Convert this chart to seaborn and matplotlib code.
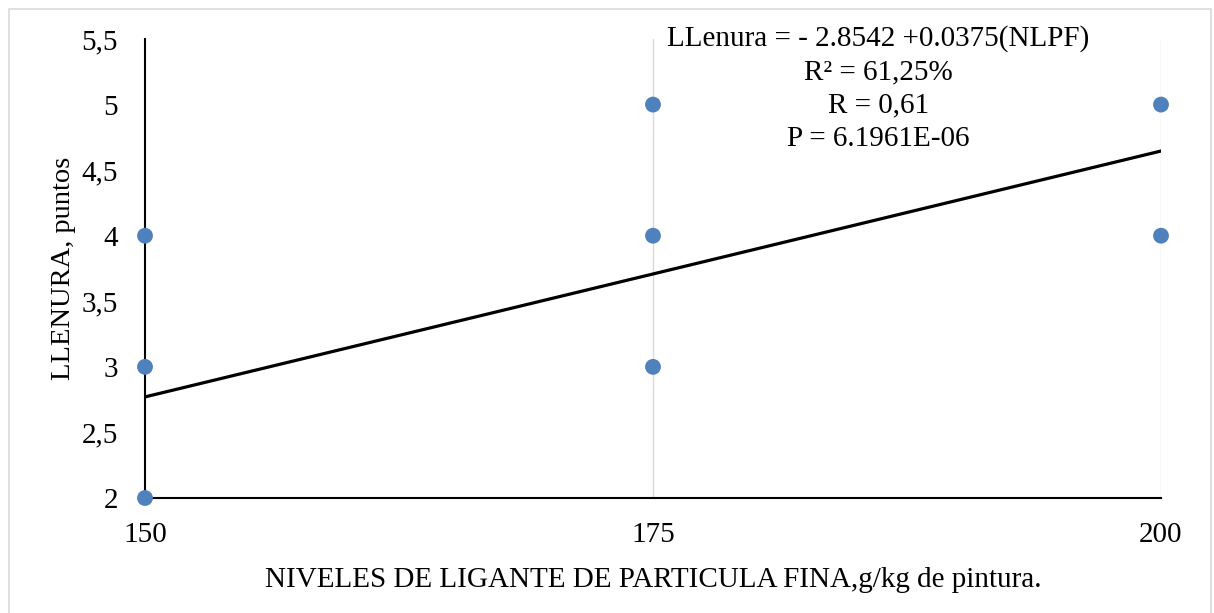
import matplotlib
matplotlib.use("Agg")
import matplotlib.pyplot as plt
import seaborn as sns
import numpy as np
import pandas as pd
from matplotlib.patches import Rectangle
from matplotlib.ticker import FuncFormatter

# Data
nlpf = [150, 150, 150, 175, 175, 175, 200, 200]
llenura = [2, 3, 4, 3, 4, 5, 4, 5]
intercept = -2.8542
slope = 0.0375
line_x = [150, 200]
x_ticks = [150, 175, 200]
y_ticks = [2, 2.5, 3, 3.5, 4, 4.5, 5, 5.5]
annotation = ["LLenura = - 2.8542 +0.0375(NLPF)", "R² = 61,25%", "R = 0,61", "P = 6.1961E-06"]

sns.set_theme(style="white")
plt.rcParams['font.family'] = ['Liberation Serif', 'DejaVu Serif']

df = pd.DataFrame({"x": nlpf, "y": llenura})
line_df = pd.DataFrame({"x": line_x, "y": [intercept + slope * v for v in line_x]})

fig = plt.figure(figsize=(12.14, 6.13), dpi=100)
ax = fig.add_axes([145/1214, 1-498/613, (1161-145)/1214, (498-39)/613])

# gridlines
for xv in x_ticks[1:]:
    ax.axvline(xv, color="#D9D9D9", lw=1.0, zorder=0)

sns.lineplot(data=line_df, x="x", y="y", ax=ax, color="black", lw=2.3, zorder=2)
sns.scatterplot(data=df, x="x", y="y", ax=ax, color="#4F81BD", s=130, edgecolor="none", zorder=3, clip_on=False)

ax.set_xlim(150, 200)
ax.set_ylim(2, 5.5)
ax.set_xticks(x_ticks)
ax.set_yticks(y_ticks)
ax.yaxis.set_major_formatter(FuncFormatter(lambda v, p: (f"{v:g}").replace(".", ",")))
ax.tick_params(axis="both", length=0, labelsize=21, colors="black")
ax.tick_params(axis="y", pad=19.5)
ax.tick_params(axis="x", pad=17)
for s in ["top", "right"]:
    ax.spines[s].set_visible(False)
ax.spines["left"].set_color("black")
ax.spines["bottom"].set_color("black")
ax.spines["left"].set_linewidth(1.5)
ax.spines["bottom"].set_linewidth(1.5)

ax.set_xlabel("NIVELES DE LIGANTE DE PARTICULA FINA,g/kg de pintura.", fontsize=21, color="black", labelpad=14)
ax.set_ylabel("LLENURA, puntos", fontsize=20.5, color="black", labelpad=4)

ax.text(186.1, 5.607, "\n".join(annotation), ha="center", va="top", fontsize=21,
        linespacing=1.36, color="black", clip_on=False)

fig.patches.append(Rectangle((9/1214, -0.02), (1211-9)/1214, 1-9/613+0.02, transform=fig.transFigure,
                             fill=False, edgecolor="#D9D9D9", lw=1.2))

fig.savefig("out.png", dpi=100)
